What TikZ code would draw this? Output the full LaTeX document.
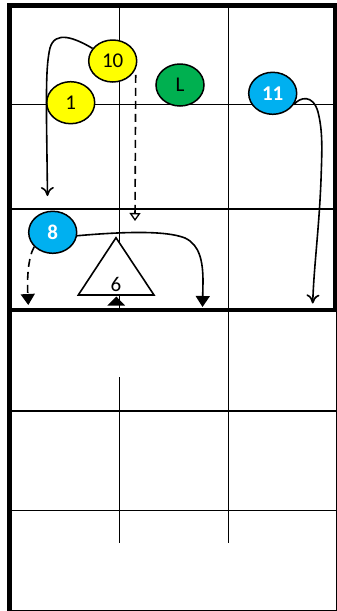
\documentclass[tikz,border=0pt]{standalone}
\usepackage{fontspec}
\setmainfont{Carlito}
\usetikzlibrary{shapes.geometric,arrows.meta}
\definecolor{pyellow}{HTML}{FFFF00}
\definecolor{pgreen}{HTML}{00B050}
\definecolor{pcyan}{HTML}{00B0F0}
\begin{document}
\begin{tikzpicture}[x=1pt,y=-1pt,
  player/.style={ellipse, draw=black, line width=1.5pt, minimum width=48pt, minimum height=42pt, inner sep=0pt, font=\fontsize{21}{24}\selectfont},
  yplayer/.style={player, fill=pyellow},
  gplayer/.style={player, fill=pgreen},
  bplayer/.style={player, fill=pcyan, text=white, font=\fontsize{21}{24}\selectfont\bfseries},
  run/.style={line width=1.6pt, -{To[length=9pt,width=13pt,line width=1.6pt]}},
  runfill/.style={line width=1.6pt, -{Triangle[length=11pt,width=14pt]}},
  pass/.style={line width=1.6pt, dash pattern=on 8pt off 5pt},
  thin grid/.style={line width=1pt},
  mid grid/.style={line width=2pt},
  thick grid/.style={line width=4.5pt}
]
\useasboundingbox (0,0) rectangle (337,611);
% grid
\draw[thin grid] (119.3,6) -- (119.3,310);
\draw[thin grid] (228.3,6) -- (228.3,310);
\draw[thin grid] (10,104.3) -- (335,104.3);
\draw[mid grid] (10,209) -- (335,209);
\draw[thin grid] (228.3,310) -- (228.3,543);
\draw[thin grid] (119.3,377) -- (119.3,543);
\draw[mid grid] (10,410.7) -- (336,410.7);
\draw[thin grid] (10,510.3) -- (336,510.3);
\draw[thin grid] (336,310) -- (336,610);
\draw[thin grid] (10,610) -- (336.5,610);
\draw[thick grid] (7.3,5.5) -- (337,5.5);
\draw[thick grid] (335,3.3) -- (335,312);
\draw[thick grid] (7.3,310) -- (337,310);
\draw[thick grid] (9.5,3.3) -- (9.5,611);
% cone and triangle
\fill[black] (107.3,305.5) -- (125,305.5) -- (116.3,296.5) -- cycle;
\draw[fill=white, line width=1.6pt, line join=miter] (116,237.7) -- (154,295) -- (78.3,295) -- cycle;
\node[font=\fontsize{21}{24}\selectfont] (l6) at (116,284.5) {6};
% players
\node[yplayer] (n10) at (112.7,61) {10};
\node[yplayer] (n1) at (70.7,102.7) {1};
\node[gplayer] (nL) at (180,85) {L};
\node[bplayer] (n11) at (272.7,93.3) {11};
\node[bplayer] (n8) at (52.7,232.3) {8};
% end points
\coordinate (e10) at (47.5,196);
\coordinate (d10) at (135,221);
\coordinate (e11) at (312.7,303.5);
\coordinate (e8) at (202.5,307);
\coordinate (d8) at (28.3,305);
% connectors
\draw[run] (n10.148) .. controls (75,38) and (55,30) .. (50,48) .. controls (46,65) and (46.5,90) .. (46.5,120) -- (e10);
\draw[pass, shorten <=6pt, -{Triangle[open,length=8pt,width=11pt,line width=1.3pt]}] (n10.-19) -- (d10);
\draw[run] (n11.-28) .. controls (300,97) and (313,94) .. (318,112) .. controls (323,132) and (322,150) .. (321,180) .. controls (319,230) and (314,265) .. (e11);
\draw[runfill] (n8.-8) .. controls (120,232) and (165,230) .. (185,238) .. controls (200,245) and (203,262) .. (203,282) -- (e8);
\draw[pass, runfill] (n8.218) .. controls (28,258) and (27,278) .. (d8);
\end{tikzpicture}
\end{document}
